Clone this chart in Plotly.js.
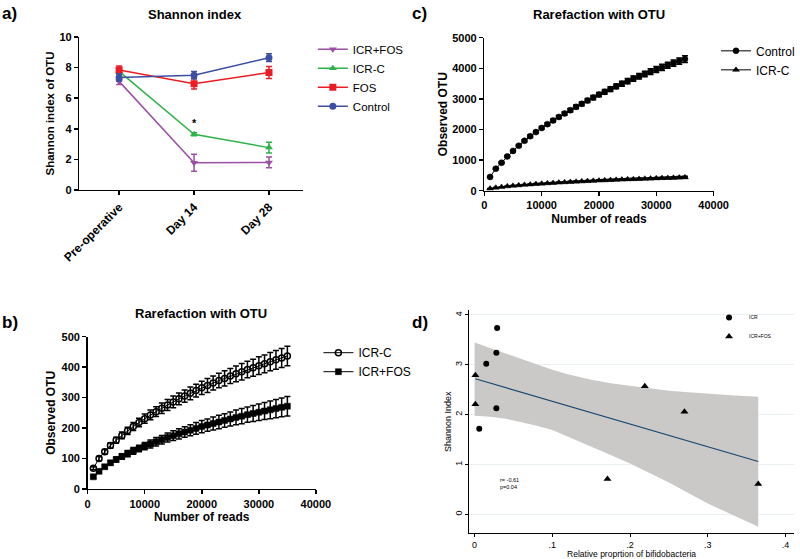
<!DOCTYPE html>
<html><head><meta charset="utf-8">
<script src="https://cdn.plot.ly/plotly-3.0.1.min.js"></script>
<style>html,body{margin:0;padding:0;background:#fff}#chart{width:800px;height:559px}</style>
</head><body><div id="chart"></div>
<script>
// ---------- Panel a: Shannon index ----------
const timepoints = ['Pre-operative', 'Day 14', 'Day 28'];
const shIcrFos = [7.10, 1.78, 1.80];
const shIcrFosErr = [0.20, 0.55, 0.35];
const shIcrC = [7.75, 3.64, 2.77];
const shIcrCErr = [0.20, 0.10, 0.35];
const shFos = [7.85, 6.95, 7.68];
const shFosErr = [0.25, 0.35, 0.40];
const shControl = [7.35, 7.50, 8.65];
const shControlErr = [0.25, 0.25, 0.25];

// ---------- Panels b & c: rarefaction ----------
const reads = [1000,2000,3000,4000,5000,6000,7000,8000,9000,10000,11000,12000,13000,14000,15000,16000,17000,18000,19000,20000,21000,22000,23000,24000,25000,26000,27000,28000,29000,30000,31000,32000,33000,34000,35000];
const otuIcrC = [68,100,122,143,160,176,191,205,218,231,243,254,265,276,286,296,305,314,323,332,340,348,356,363,371,378,385,392,398,405,411,418,424,430,437];
const otuIcrCErr = [5,7,8,9,10,11,12,13,14,15,16,16,17,18,19,19,20,21,21,22,23,23,24,25,25,26,27,27,28,29,29,30,31,31,32];
const otuIcrFos = [40,58,73,86,97,107,116,125,133,141,148,155,162,169,175,181,187,193,199,205,210,215,220,225,230,235,239,244,248,252,256,260,264,268,272];
const otuIcrFosErr = [4,5,6,7,8,9,10,11,11,12,13,14,14,15,16,17,17,18,19,20,20,21,22,22,23,24,25,25,26,27,28,29,30,31,32];
const otuControl = [450,720,915,1120,1300,1470,1630,1780,1915,2050,2175,2295,2410,2520,2630,2740,2840,2945,3045,3140,3230,3320,3410,3495,3580,3660,3740,3815,3890,3960,4030,4100,4170,4235,4300];
const otuControlErr = [15,20,25,30,30,35,35,40,40,45,45,50,50,55,55,60,60,65,70,70,75,75,80,80,85,85,90,90,95,95,100,100,105,105,110];
const readTicks = [0, 10000, 20000, 30000, 40000];

// ---------- Panel d: correlation ----------
const icrBifido = [0.006, 0.015, 0.028, 0.029, 0.028];
const icrShannon = [1.72, 3.02, 3.24, 3.74, 2.13];
const icrFosBifido = [0.001, 0.001, 0.171, 0.219, 0.270, 0.365];
const icrFosShannon = [2.79, 2.21, 0.71, 2.57, 2.06, 0.61];
const fitX = [0.001, 0.365];
const fitY = [2.72, 1.06];
const bandX = [0, 0.02, 0.04, 0.06, 0.08, 0.1, 0.12, 0.15, 0.175, 0.2, 0.225, 0.25, 0.275, 0.3, 0.33, 0.365];
const bandUpper = [3.45, 3.34, 3.23, 3.12, 3.01, 2.90, 2.81, 2.70, 2.63, 2.58, 2.53, 2.48, 2.45, 2.42, 2.39, 2.36];
const bandLower = [1.98, 1.96, 1.92, 1.85, 1.78, 1.69, 1.57, 1.36, 1.19, 1.02, 0.83, 0.64, 0.43, 0.22, 0.00, -0.25];
const dTickVals = [0, 0.1, 0.2, 0.3, 0.4];
const dTickText = ['0', '.1', '.2', '.3', '.4'];
const dYTickVals = [0, 1, 2, 3, 4];

const FONT = 'Liberation Sans, Arial, sans-serif';
const bold = (s) => ({family: FONT, size: s, color: '#000', weight: 700});
const reg = (s) => ({family: FONT, size: s, color: '#000'});

function aTrace(name, y, err, color, symbol) {
  return {x: timepoints, y: y, name: name, type: 'scatter', mode: 'lines+markers',
    xaxis: 'x', yaxis: 'y', legend: 'legend',
    line: {color: color, width: 1.5},
    marker: {color: color, symbol: symbol, size: 7},
    error_y: {type: 'data', array: err, color: color, thickness: 1.5, width: 3}};
}
function rTrace(name, y, err, xa, ya, lg, symbol, size, lw) {
  return {x: reads, y: y, name: name, type: 'scatter', mode: 'lines+markers',
    xaxis: xa, yaxis: ya, legend: lg,
    line: {color: '#000', width: 1},
    marker: {color: '#000', symbol: symbol, size: size, line: {color: '#000', width: lw}},
    error_y: {type: 'data', array: err, color: '#000', thickness: 1.5, width: 3}};
}

const traces = [
  aTrace('ICR+FOS', shIcrFos, shIcrFosErr, '#9B4FA6', 'triangle-down'),
  aTrace('ICR-C', shIcrC, shIcrCErr, '#2DB34A', 'triangle-up'),
  aTrace('FOS', shFos, shFosErr, '#EC1C24', 'square'),
  aTrace('Control', shControl, shControlErr, '#3C4FA2', 'circle'),
  rTrace('ICR-C', otuIcrC, otuIcrCErr, 'x2', 'y2', 'legend2', 'circle-open', 6, 1.5),
  rTrace('ICR+FOS', otuIcrFos, otuIcrFosErr, 'x2', 'y2', 'legend2', 'square', 6, 0.5),
  rTrace('Control', otuControl, otuControlErr, 'x3', 'y3', 'legend3', 'circle', 6, 0.5),
  rTrace('ICR-C', otuIcrC, otuIcrCErr, 'x3', 'y3', 'legend3', 'triangle-up', 6, 0.5),
  {x: bandX.concat(bandX.slice().reverse()), y: bandUpper.concat(bandLower.slice().reverse()),
   type: 'scatter', mode: 'lines', fill: 'toself', fillcolor: '#cbc9c8',
   line: {width: 0}, xaxis: 'x4', yaxis: 'y4', showlegend: false, hoverinfo: 'skip'},
  {x: fitX, y: fitY, type: 'scatter', mode: 'lines', line: {color: '#1a476f', width: 1.2},
   xaxis: 'x4', yaxis: 'y4', showlegend: false},
  {x: icrBifido, y: icrShannon, name: 'ICR', type: 'scatter', mode: 'markers',
   marker: {color: '#000', symbol: 'circle', size: 6}, xaxis: 'x4', yaxis: 'y4', legend: 'legend4'},
  {x: icrFosBifido, y: icrFosShannon, name: 'ICR+FOS', type: 'scatter', mode: 'markers',
   marker: {color: '#000', symbol: 'triangle-up', size: 7}, xaxis: 'x4', yaxis: 'y4', legend: 'legend4'}
];

const prismAxis = {showline: true, linecolor: '#000', linewidth: 1.5, ticks: 'outside',
  ticklen: 4, tickwidth: 1.5, tickcolor: '#000', showgrid: false, zeroline: false,
  tickfont: bold(11), fixedrange: true};

const layout = {
  width: 800, height: 559, margin: {l: 0, r: 0, t: 0, b: 0},
  paper_bgcolor: '#fff', plot_bgcolor: 'rgba(0,0,0,0)', showlegend: true,
  font: reg(11),
  xaxis: Object.assign({}, prismAxis, {domain: [0.1, 0.38125], anchor: 'y', type: 'category',
    range: [-0.53, 2.45], tickangle: -45, tickfont: bold(12)}),
  yaxis: Object.assign({}, prismAxis, {domain: [0.66011, 0.93381], anchor: 'x', range: [0, 10],
    tickvals: [0, 2, 4, 6, 8, 10], title: {text: 'Shannon index of OTU', font: bold(11.5), standoff: 2}}),
  xaxis2: Object.assign({}, prismAxis, {domain: [0.110375, 0.397875], anchor: 'y2', range: [0, 40000],
    tickvals: readTicks, tickformat: 'd', title: {text: 'Number of reads', font: bold(12), standoff: 4}}),
  yaxis2: Object.assign({}, prismAxis, {domain: [0.125224, 0.397674], anchor: 'x2', range: [0, 500],
    tickvals: [0, 100, 200, 300, 400, 500], title: {text: 'Observed OTU', font: bold(12), standoff: 3}}),
  xaxis3: Object.assign({}, prismAxis, {domain: [0.61, 0.89875], anchor: 'y3', range: [0, 40000],
    tickvals: readTicks, tickformat: 'd', title: {text: 'Number of reads', font: bold(12), standoff: 4}}),
  yaxis3: Object.assign({}, prismAxis, {domain: [0.65886, 0.93256], anchor: 'x3', range: [0, 5000],
    tickvals: [0, 1000, 2000, 3000, 4000, 5000], tickformat: 'd', title: {text: 'Observed OTU', font: bold(12), standoff: 2}}),
  xaxis4: {domain: [0.590875, 1.0], anchor: 'y4', range: [-0.007, 0.411], showline: true,
    linecolor: '#000', linewidth: 1, ticks: 'outside', ticklen: 3, tickcolor: '#000',
    showgrid: false, zeroline: false, tickvals: dTickVals, ticktext: dTickText, tickfont: reg(9),
    title: {text: 'Relative proprtion of bifidobacteria', font: reg(8.5), standoff: 0}},
  yaxis4: {domain: [0.045975, 0.445438], anchor: 'x4', range: [-0.38, 4.1], showline: true,
    linecolor: '#000', linewidth: 1, ticks: 'outside', ticklen: 3, tickcolor: '#000',
    showgrid: true, gridcolor: '#eaf1f3', gridwidth: 1, zeroline: false,
    tickvals: dYTickVals, tickangle: -90, tickfont: reg(9),
    title: {text: 'Shannon Index', font: reg(9), standoff: 0}},
  legend: {x: 0.394, y: 0.938, xanchor: 'left', yanchor: 'top', font: reg(11.5),
    bgcolor: 'rgba(0,0,0,0)', itemwidth: 30, tracegroupgap: 0},
  legend2: {x: 0.401, y: 0.395, xanchor: 'left', yanchor: 'top', font: reg(12),
    bgcolor: 'rgba(0,0,0,0)', itemwidth: 30},
  legend3: {x: 0.902, y: 0.935, xanchor: 'left', yanchor: 'top', font: reg(12),
    bgcolor: 'rgba(0,0,0,0)', itemwidth: 30},
  legend4: {x: 0.893, y: 0.458, xanchor: 'left', yanchor: 'top', font: reg(5),
    bgcolor: 'rgba(0,0,0,0)', itemwidth: 30},
  annotations: [
    {text: 'a)', xref: 'paper', yref: 'paper', x: 0.0, y: 1 - 13/559, xanchor: 'left', yanchor: 'middle', showarrow: false, font: bold(17)},
    {text: 'b)', xref: 'paper', yref: 'paper', x: 0.0, y: 1 - 322/559, xanchor: 'left', yanchor: 'middle', showarrow: false, font: bold(17)},
    {text: 'c)', xref: 'paper', yref: 'paper', x: 413/800, y: 1 - 13/559, xanchor: 'left', yanchor: 'middle', showarrow: false, font: bold(17)},
    {text: 'd)', xref: 'paper', yref: 'paper', x: 413/800, y: 1 - 322/559, xanchor: 'left', yanchor: 'middle', showarrow: false, font: bold(17)},
    {text: 'Shannon index', xref: 'paper', yref: 'paper', x: 196/800, y: 1 - 15/559, xanchor: 'center', yanchor: 'middle', showarrow: false, font: bold(13)},
    {text: 'Rarefaction with OTU', xref: 'paper', yref: 'paper', x: 604/800, y: 1 - 15/559, xanchor: 'center', yanchor: 'middle', showarrow: false, font: bold(13)},
    {text: 'Rarefaction with OTU', xref: 'paper', yref: 'paper', x: 203/800, y: 1 - 313/559, xanchor: 'center', yanchor: 'middle', showarrow: false, font: bold(13)},
    {text: '*', xref: 'x', yref: 'y', x: 'Day 14', y: 4.4, showarrow: false, font: bold(11)},
    {text: 'r= -0.61<br>p=0.04', xref: 'x4', yref: 'y4', x: 0.03, y: 0.62, xanchor: 'left', yanchor: 'middle', align: 'left', showarrow: false, font: reg(5.5)}
  ]
};

Plotly.newPlot('chart', traces, layout, {staticPlot: true, displayModeBar: false});
</script>
</body></html>
